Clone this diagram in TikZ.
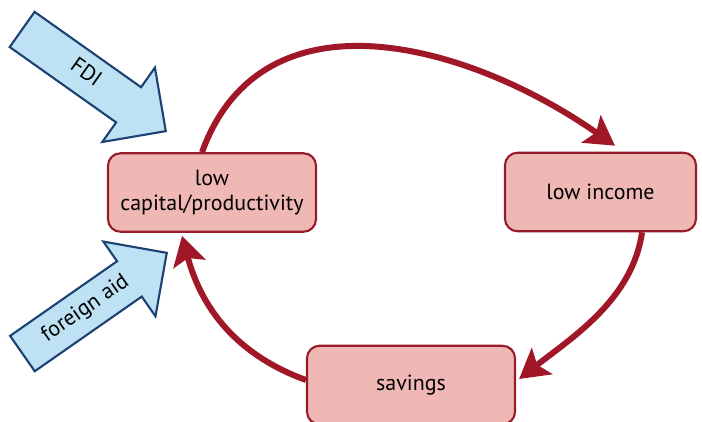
\documentclass[tikz,border=0pt]{standalone}
\usepackage{fontspec}
\setsansfont{PT Sans}
\usetikzlibrary{arrows.meta,shapes.arrows}
\definecolor{boxfill}{RGB}{240,184,180}
\definecolor{boxline}{RGB}{150,28,42}
\definecolor{cyclered}{RGB}{160,24,40}
\definecolor{inflowfill}{RGB}{190,226,243}
\definecolor{inflowline}{RGB}{28,66,116}

\begin{document}
\begin{tikzpicture}[
  font=\sffamily\fontsize{12.5}{14}\selectfont,
  stage/.style={draw=boxline, line width=1.2pt, fill=boxfill, rounded corners=0.25cm,
                minimum height=1.57cm, align=center, inner sep=2pt},
  cycle/.style={draw=cyclered, line width=0.12cm,
                -{Stealth[length=0.58cm, width=0.66cm, inset=0.12cm]}},
  inflow/.style={single arrow, draw=inflowline, line width=1.2pt, fill=inflowfill,
                 single arrow head extend=0.48cm, minimum height=3.52cm,
                 text height=0.3cm, text depth=0.1cm, inner ysep=0.21cm,
                 anchor=tip},
]
  \useasboundingbox (0,0) rectangle (14.04,8.42);

  \node[stage, minimum width=4.16cm] (cap) at (4.24,4.57) {low\\capital/productivity};
  \node[stage, minimum width=3.82cm] (inc) at (12.01,4.58) {low income};
  \node[stage, minimum width=4.16cm] (sav) at (8.22,0.72) {savings};

  % outside inflows
  \node[inflow, rotate=-35.3] (fdi) at (3.34,5.78) {FDI};
  \node[inflow, rotate=34.9] (aid) at (3.36,3.38) {foreign aid};

  % vicious circle
  \draw[cycle] ([xshift=-0.2cm]cap.north) to[out=70, in=145, looseness=1.1]
    ([xshift=0.29cm, yshift=0.12cm]inc.north);
  \draw[cycle] ([xshift=0.83cm]inc.south) to[out=-98, in=38, looseness=0.9]
    ([xshift=0.06cm, yshift=0.12cm]sav.east);
  \draw[cycle] ([yshift=0.1cm]sav.west) to[out=160, in=-75]
    ([xshift=-0.6cm, yshift=-0.06cm]cap.south);
\end{tikzpicture}
\end{document}
